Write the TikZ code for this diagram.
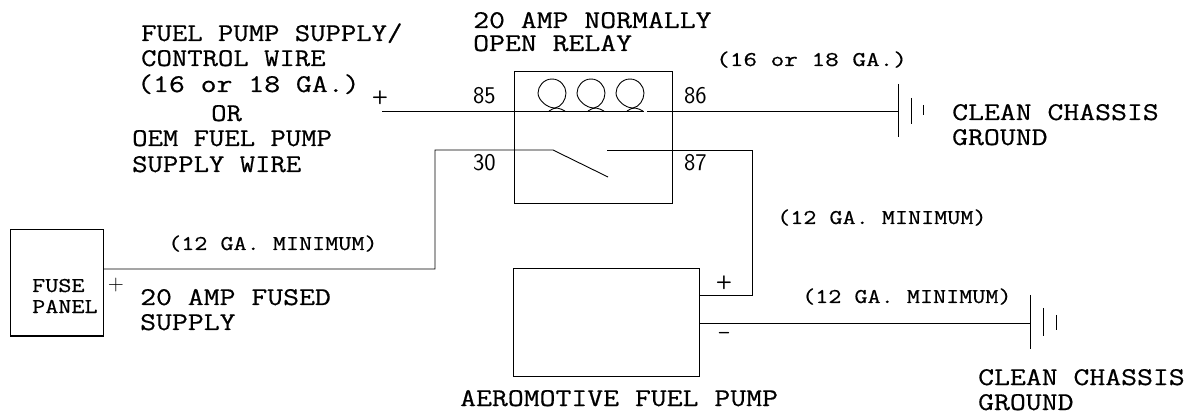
\documentclass[tikz,border=0pt]{standalone}
\usepackage{fontspec}
\newfontfamily\slabfont[FakeStretch=1.17,FakeBold=0.6]{Latin Modern Mono}
\newfontfamily\slabwide[FakeStretch=1.21,FakeBold=0.6]{Latin Modern Mono}
\newfontfamily\slabwider[FakeStretch=1.26,FakeBold=0.6]{Latin Modern Mono}
\tikzset{
  wire/.style={draw=black,line width=0.9pt},
  boxn/.style={draw=black,line width=1pt,inner sep=0pt,fill=none},
  lab/.style={inner sep=0pt,anchor=base west,align=left,font=\fontsize{25.5}{25.5}\slabfont},
  labw/.style={lab,font=\fontsize{25.5}{25.5}\slabwide},
  smalllab/.style={lab,font=\fontsize{21}{21}\slabwide},
  smallwide/.style={lab,font=\fontsize{21}{21}\slabwider},
  num/.style={inner sep=0pt,anchor=base west,font=\fontsize{24}{24}\sffamily},
  sign/.style={inner sep=0pt,anchor=center,font=\fontsize{19}{19}\sffamily\bfseries}
}
\begin{document}
\begin{tikzpicture}[x=1pt,y=-1pt]
\useasboundingbox (0,0) rectangle (1187,414);
% boxes
\node[boxn,minimum width=93pt,minimum height=106pt] (fuse) at (56.5,283) {};
\node[boxn,minimum width=158pt,minimum height=132pt] (relay) at (593,138) {};
\node[boxn,minimum width=186pt,minimum height=107pt] (pump) at (606,322.5) {};
% free ends
\coordinate (in) at (382,111);
\coordinate (c1) at (644,111);
\coordinate (c2) at (647,111);
\coordinate (g1) at (898,111);
\coordinate (sw0) at (553,150);
\coordinate (sw1) at (608,177);
\coordinate (sw2) at (607,150);
\coordinate (g2) at (1030,323);
% wires
\draw[wire] (in) -- (c1);
\draw[wire] (c2) -- (g1);
\draw[wire] (fuse.east |- 0,269) -- (435,269) -- (435,150) -- (sw0) -- (sw1);
\draw[wire] (sw2) -- (752,150) -- (752,295) -- (pump.east |- 0,295);
\draw[wire] (pump.east |- g2) -- (g2);
% coils
\foreach \cx in {552,591,630}{
  \draw[wire] (\cx+3,108)
     .. controls (\cx+9,107) and (\cx+14,100) .. (\cx+14,93)
     .. controls (\cx+14,86) and (\cx+8,79) .. (\cx,79)
     .. controls (\cx-8,79) and (\cx-14,86) .. (\cx-14,93)
     .. controls (\cx-14,100) and (\cx-5,108) .. (\cx+3,108);
  \draw[wire] (\cx-3,111) .. controls (\cx,109) and (\cx+2,108) .. (\cx+5,108)
     .. controls (\cx+8,108) and (\cx+10,110) .. (\cx+13,111);
}
% grounds
\draw[wire] (g1 |- 0,84) -- (g1 |- 0,137);
\draw[wire] (911,98) -- (911,124);
\draw[wire] (923,105) -- (923,115);
\draw[wire] (g2 |- 0,295) -- (g2 |- 0,349);
\draw[wire] (1043,308) -- (1043,336);
\draw[wire] (1056,315) -- (1056,330);
% labels
\node[lab] (t1) at (141,41) {FUEL PUMP SUPPLY/};
\node[lab] (t2) at (141,66) {CONTROL WIRE};
\node[labw] (t3) at (137,92) {(16 or 18 GA.)};
\node[lab] (t4) at (211,121) {OR};
\node[lab] (t5) at (132,146) {OEM FUEL PUMP};
\node[lab] (t6) at (132,172) {SUPPLY WIRE};
\node[labw] (t7) at (473,28) {20 AMP NORMALLY};
\node[labw] (t8) at (473,51) {OPEN RELAY};
\node[smallwide] (t9) at (716,66) {(16 or 18 GA.)};
\node[labw] (t10) at (952,120) {CLEAN CHASSIS};
\node[labw] (t11) at (952,145) {GROUND};
\node[smalllab] (t12) at (777,224) {(12 GA. MINIMUM)};
\node[smalllab] (t13) at (168,250) {(12 GA. MINIMUM)};
\node[smalllab] (t14) at (802,303) {(12 GA. MINIMUM)};
\node[labw] (t15) at (140,305) {20 AMP FUSED};
\node[labw] (t16) at (140,330) {SUPPLY};
\node[smalllab] (t17) at (32,292) {FUSE};
\node[smalllab] (t18) at (32,313) {PANEL};
\node[labw] (t19) at (460,406) {AEROMOTIVE FUEL PUMP};
\node[labw] (t20) at (978,385) {CLEAN CHASSIS};
\node[labw] (t21) at (978,410) {GROUND};
\node[num] (n85) at (473,104) {85};
\node[num] (n30) at (473,171) {30};
\node[num] (n86) at (684,104) {86};
\node[num] (n87) at (684,171) {87};
\node[sign] (p1) at (380,98) {+};
\node[sign,font=\fontsize{22}{22}\sffamily] (p2) at (116,285) {+};
\node[sign] (p3) at (724,283) {+};
\node[sign] (m1) at (724,335) {–};
\end{tikzpicture}
\end{document}
